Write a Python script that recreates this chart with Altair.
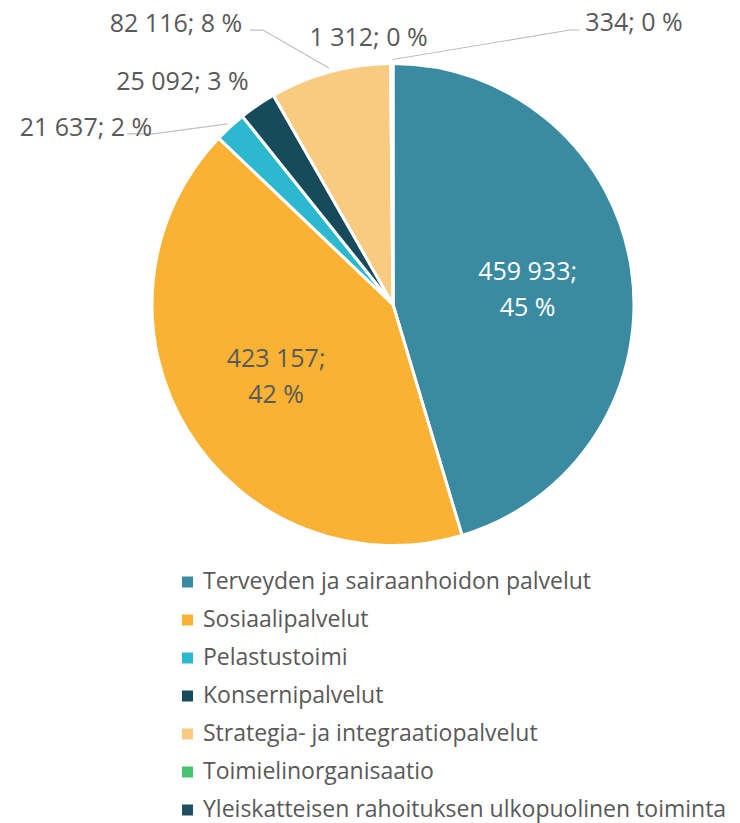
import math
import altair as alt
import pandas as pd

# ---------------- data ----------------
categories = [
    "Terveyden ja sairaanhoidon palvelut",
    "Sosiaalipalvelut",
    "Pelastustoimi",
    "Konsernipalvelut",
    "Strategia- ja integraatiopalvelut",
    "Toimielinorganisaatio",
    "Yleiskatteisen rahoituksen ulkopuolinen toiminta",
]
values = [459933, 423157, 21637, 25092, 82116, 1312, 334]
percents = [45, 42, 2, 3, 8, 0, 0]

# ---------------- styles / layout ----------------
colors = ["#3A8BA2", "#F9B233", "#2CB8CE", "#174B5B", "#F9CB81", "#46C46F", "#1F4F60"]
FONT = "Open Sans"
TEXT_GREY = "#595959"
W, H = 724, 815
CX, CY = 385, 296.5          # pie centre inside the view
R = 241                      # pie radius
R_ANCHOR = 245               # where leader lines meet the pie
R_INSIDE = 136               # radius of the inside labels

# label placement per slice: (inside?, dx, dy) offset from the anchor point
label_layout = [
    (True, 0, -13),
    (True, -1, -17),
    (False, -141.5, 4),
    (False, -72.8, -20),
    (False, -152.9, -44),
    (False, -23, -21.5),
    (False, 241.3, -36.5),
]
# leader-line bend points (offsets from the anchor), slices without a leader omitted
leader_layout = {
    2: [(-74.5, 10), (-100.5, 10)],
    4: [(-65.9, -38), (-78.9, -38)],
    6: [(177.3, -29.5), (187.3, -29.5)],
}

# ---------------- tables built from the arrays ----------------
total = sum(values)
df = pd.DataFrame({
    "category": categories,
    "value": values,
    "order": list(range(len(values))),
})

mids = []
cum = 0
for v in values:
    mids.append(2 * math.pi * (cum + v / 2) / total)
    cum += v


def fmt(v):
    return f"{v:,}".replace(",", " ")


lab_rows = []
for i, (c, v, p) in enumerate(zip(categories, values, percents)):
    inside, dx, dy = label_layout[i]
    r = R_INSIDE if inside else R_ANCHOR
    sep = ";\n" if inside else "; "
    lab_rows.append({
        "category": c,
        "label": f"{fmt(v)}{sep}{p} %",
        "px": CX + r * math.sin(mids[i]) + dx,
        "py": CY - r * math.cos(mids[i]) + dy,
        "inside": inside,
        "white": i == 0,
    })
labels = pd.DataFrame(lab_rows)

lead_rows = []
for i, pts in leader_layout.items():
    ax = CX + R_ANCHOR * math.sin(mids[i])
    ay = CY - R_ANCHOR * math.cos(mids[i])
    seq = [(0, 0)] + pts
    for k, (ox, oy) in enumerate(seq):
        lead_rows.append({"category": categories[i], "k": k, "px": ax + ox, "py": ay + oy})
leaders = pd.DataFrame(lead_rows)

# ---------------- chart ----------------
pie = alt.Chart(df).mark_arc(outerRadius=R, stroke="white", strokeWidth=3).encode(
    theta=alt.Theta("value:Q", stack=True),
    order=alt.Order("order:Q"),
    color=alt.Color(
        "category:N",
        sort=categories,
        scale=alt.Scale(domain=categories, range=colors),
        legend=alt.Legend(
            title=None,
            orient="none",
            legendX=168,
            legendY=562.5,
            padding=0,
            symbolType="square",
            symbolSize=121,
            symbolStrokeWidth=0,
            symbolOpacity=1,
            labelFont=FONT,
            labelFontSize=23,
            labelColor=TEXT_GREY,
            labelOffset=4,
            labelLimit=0,
            rowPadding=14,
        ),
    ),
    x=alt.value(CX),
    y=alt.value(CY),
)

lines = alt.Chart(leaders).mark_line(color="#BFBFBF", strokeWidth=1.2).encode(
    x=alt.X("px:Q", scale=None),
    y=alt.Y("py:Q", scale=None),
    detail="category:N",
    order="k:Q",
)

inside_dark = alt.Chart(labels).transform_filter(
    "datum.inside && !datum.white"
).mark_text(font=FONT, fontSize=25, color=TEXT_GREY, lineBreak="\n", lineHeight=36,
            align="center", baseline="middle").encode(
    x=alt.X("px:Q", scale=None), y=alt.Y("py:Q", scale=None), text="label:N")

inside_white = alt.Chart(labels).transform_filter(
    "datum.white"
).mark_text(font=FONT, fontSize=25, color="white", lineBreak="\n", lineHeight=36,
            align="center", baseline="middle").encode(
    x=alt.X("px:Q", scale=None), y=alt.Y("py:Q", scale=None), text="label:N")

outside = alt.Chart(labels).transform_filter(
    "!datum.inside"
).mark_text(font=FONT, fontSize=25, color=TEXT_GREY, align="center", baseline="middle").encode(
    x=alt.X("px:Q", scale=None), y=alt.Y("py:Q", scale=None), text="label:N")

chart = alt.layer(pie, lines, inside_dark, inside_white, outside).properties(
    width=W, height=H, autosize=alt.AutoSizeParams(type="none"), padding=0,
).configure_view(stroke=None)

chart.save("out.html", embed_options={"renderer": "svg", "actions": False})
